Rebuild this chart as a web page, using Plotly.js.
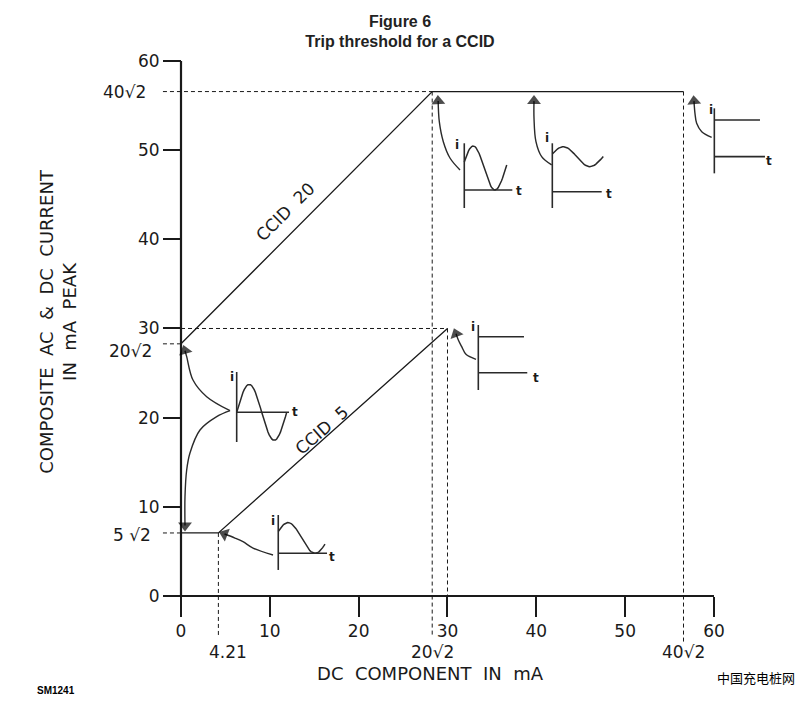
<!DOCTYPE html>
<html>
<head>
<meta charset="utf-8">
<script src="https://cdn.plot.ly/plotly-3.0.1.min.js"></script>
<style>html,body{margin:0;padding:0;background:#fff;}#chart{width:800px;height:707px;}</style>
</head>
<body>
<div id="chart"></div>
<script>
// ---- chart values ----
const X_TICKS = [0, 10, 20, 30, 40, 50, 60];
const Y_TICKS = [0, 10, 20, 30, 40, 50, 60];
const X_SPECIAL = [4.21, 28.28, 56.57];
const X_SPECIAL_TEXT = ['4.21', '20\u221A2', '40\u221A2'];
const Y_SPECIAL = [56.57, 28.28, 7.07];
const Y_SPECIAL_TEXT = ['40\u221A2', '20\u221A2', '5 \u221A2'];
const CCID20_X = [0, 28.28, 56.57];
const CCID20_Y = [28.28, 56.57, 56.57];
const CCID5_X = [0, 4.21, 30];
const CCID5_Y = [7.07, 7.07, 30];
// dashed guides: horizontal [x0, x1, y], vertical [x, y0, y1]
const GUIDE_H = [[-2.03, 28.28, 56.57], [0, 30, 30], [-2.03, 0, 28.28], [-2.03, 0, 7.07]];
const GUIDE_V = [[28.28, 56.57, -4.6], [30, 30, 0], [4.21, 7.07, -4.4], [56.57, 56.57, -5.3]];

// ---- waveform sketches (illustrations, data units) ----
const SKETCH_SINE = [
  {ax: 6.27, vy: [17.27, 25.12], base: 20.6, hEnd: 12.16, w: {x0: 6.27, x1: 11.9, c: 20.6, a: 3.14, p: 5.63, pk: 7.68}, i: [5.74, 24.6], t: [12.83, 20.6]},
  {ax: 10.95, vy: [2.92, 9.08], base: 4.79, hEnd: 16.44, w: {x0: 10.95, x1: 16.21, c: 6.51, a: 1.72, p: 6.08, pk: 12.05}, i: [10.36, 8.4], t: [16.96, 4.4]},
  {ax: 31.89, vy: [43.51, 50.77], base: 45.53, hEnd: 37.30, w: {x0: 31.89, x1: 36.67, c: 48.0, a: 2.47, p: 4.89, pk: 32.9}, i: [31.04, 50.6], t: [38.05, 45.4]},
  {ax: 41.8, vy: [43.51, 50.77], base: 45.34, hEnd: 47.36, w: {x0: 41.8, x1: 47.54, c: 49.27, a: 1.12, p: 5.97, pk: 43.04}, i: [41.17, 51.4], t: [48.22, 45.1]}
];
const SKETCH_DC = [
  {ax: 60.04, vy: [47.4, 54.69], levels: [[53.38, 65.18], [49.27, 65.74]], i: [59.63, 54.5], t: [66.23, 48.8]},
  {ax: 33.47, vy: [23.1, 30.39], levels: [[29.08, 38.61], [25.04, 38.98]], i: [32.9, 30.2], t: [39.96, 24.5]}
];
const ARROWS = [
  {x: [5.52, 2.89, 1.35, 0.64, 0.45], y: [20.78, 22.35, 24.22, 26.84, 27.5]},
  {x: [5.52, 4.02, 2.14, 1.01, 0.64, 0.45, 0.45], y: [20.78, 20.11, 18.62, 16.04, 14.13, 11.14, 7.9]},
  {x: [10.36, 8.11, 6.98, 6.08, 4.9], y: [4.6, 5.38, 6.09, 6.5, 6.95]},
  {x: [31.41, 30.28, 29.53, 29.08, 28.95], y: [47.78, 49.12, 50.95, 53.19, 55.5]},
  {x: [41.73, 40.6, 39.96, 39.74, 39.74], y: [48.34, 49.27, 50.95, 53.57, 55.5]},
  {x: [59.74, 58.62, 58.05, 57.86, 57.75], y: [51.44, 52.07, 53.01, 54.13, 55.5]},
  {x: [33.21, 32.08, 31.6, 31.22, 30.96], y: [26.54, 27.11, 27.96, 28.71, 29.4]}
];

const INK = '#1a1a1a';
const FONT = 'DejaVu Sans, Verdana, sans-serif';
const traces = [];
function seg(xs, ys, width, dash, color) {
  traces.push({type: 'scatter', mode: 'lines', x: xs, y: ys, hoverinfo: 'skip',
    line: {color: color || INK, width: width, dash: dash || 'solid'}});
}
// axes lines
seg([0, 60], [0, 0], 2.2);
seg([0, 0], [0, 60], 2.2);
// guides
GUIDE_H.forEach(g => seg([g[0], g[1]], [g[2], g[2]], 1, '4px,3px'));
GUIDE_V.forEach(g => seg([g[0], g[0]], [g[1], g[2]], 1, '4px,3px'));
// thresholds
seg(CCID20_X, CCID20_Y, 1.3);
seg(CCID5_X, CCID5_Y, 1.3);

const annotations = [];
function label(x, y, text, size, opts) {
  annotations.push(Object.assign({x: x, y: y, xref: 'x', yref: 'y', text: text, showarrow: false,
    font: {family: FONT, size: size, color: INK}}, opts || {}));
}

// sketches
const SK = '#2a2a2a';
SKETCH_SINE.forEach(s => {
  seg([s.ax, s.ax], s.vy, 1.6, 'solid', SK);
  seg([s.ax, s.hEnd], [s.base, s.base], 1.6, 'solid', SK);
  const wx = [], wy = [];
  for (let k = 0; k <= 40; k++) {
    const x = s.w.x0 + (s.w.x1 - s.w.x0) * k / 40;
    wx.push(x);
    wy.push(s.w.c + s.w.a * Math.cos(2 * Math.PI * (x - s.w.pk) / s.w.p));
  }
  seg(wx, wy, 1.5, 'solid', SK);
  label(s.i[0], s.i[1], '<b>i</b>', 12);
  label(s.t[0], s.t[1], '<b>t</b>', 12);
});
SKETCH_DC.forEach(s => {
  seg([s.ax, s.ax], s.vy, 1.6, 'solid', SK);
  s.levels.forEach(l => seg([s.ax, l[1]], [l[0], l[0]], 1.6, 'solid', SK));
  label(s.i[0], s.i[1], '<b>i</b>', 12);
  label(s.t[0], s.t[1], '<b>t</b>', 12);
});
ARROWS.forEach(a => {
  const sizes = a.x.map((_, k) => k === a.x.length - 1 ? 12 : 0);
  traces.push({type: 'scatter', mode: 'lines+markers', x: a.x, y: a.y, hoverinfo: 'skip',
    line: {color: SK, width: 1.4, shape: 'spline'},
    marker: {symbol: 'triangle-up', size: sizes, color: '#000', angleref: 'previous', line: {width: 0}}});
});

// special tick labels (below the numeric row)
const xsShift = [10, 0, 0];
X_SPECIAL.forEach((v, k) => label(v, 1 - 652 / 707, X_SPECIAL_TEXT[k], 17, {yref: 'paper', yanchor: 'middle', xshift: xsShift[k]}));
const ysShift = [[-33, 0], [-27, -7], [-28, -2]];
Y_SPECIAL.forEach((v, k) => label(0, v, Y_SPECIAL_TEXT[k], 17, {xanchor: 'right', xshift: ysShift[k][0], yshift: ysShift[k][1]}));

// curve names
label(11.71, 43.1, 'CCID  20', 17, {textangle: -45});
label(15.87, 18.6, 'CCID  5', 17, {textangle: -41});

// footers
annotations.push({xref: 'paper', yref: 'paper', x: 35 / 800, y: 1 - 690 / 707, xanchor: 'left', yanchor: 'middle',
  text: '<b>SM1241</b>', showarrow: false, font: {family: 'Liberation Sans, Arial, sans-serif', size: 10, color: '#000'}});
annotations.push({xref: 'paper', yref: 'paper', x: 797 / 800, y: 1 - 677 / 707, xanchor: 'right', yanchor: 'middle',
  text: '中国充电桩网', showarrow: false, font: {family: 'Noto Sans CJK SC', size: 13, color: '#000'}});

const layout = {
  width: 800, height: 707,
  margin: {l: 0, r: 0, t: 0, b: 0},
  paper_bgcolor: '#fff', plot_bgcolor: '#fff',
  showlegend: false, hovermode: false,
  title: {text: '<b>Figure 6</b><br><b>Trip threshold for a CCID</b>', x: 0.5, xanchor: 'center',
    y: 1 - 26.5 / 707, yanchor: 'middle', font: {family: 'Liberation Sans, Arial, sans-serif', size: 16, color: '#222'}},
  xaxis: {
    domain: [0.075, 1], range: [-13.621, 69.684], anchor: 'free', position: 111 / 707,
    showgrid: false, zeroline: false, showline: false,
    ticks: 'outside', ticklen: 20, tickwidth: 2, tickcolor: INK,
    tickvals: X_TICKS, ticktext: X_TICKS.map(String),
    tickfont: {family: FONT, size: 17, color: INK},
    title: {text: 'DC  COMPONENT  IN  mA', font: {family: FONT, size: 18, color: INK}, standoff: 26}
  },
  yaxis: {
    domain: [0.0892, 1], range: [-5.376, 66.839], anchor: 'free', position: 181 / 800,
    showgrid: false, zeroline: false, showline: false,
    ticks: 'outside', ticklen: 18, tickwidth: 2, tickcolor: INK,
    tickvals: Y_TICKS, ticktext: Y_TICKS.map(String),
    tickfont: {family: FONT, size: 17, color: INK},
    title: {text: 'COMPOSITE  AC  &  DC  CURRENT<br>IN  mA  PEAK', font: {family: FONT, size: 18, color: INK}, standoff: 55}
  },
  annotations: annotations
};
Plotly.newPlot('chart', traces, layout, {displayModeBar: false, staticPlot: true});
</script>
</body>
</html>
